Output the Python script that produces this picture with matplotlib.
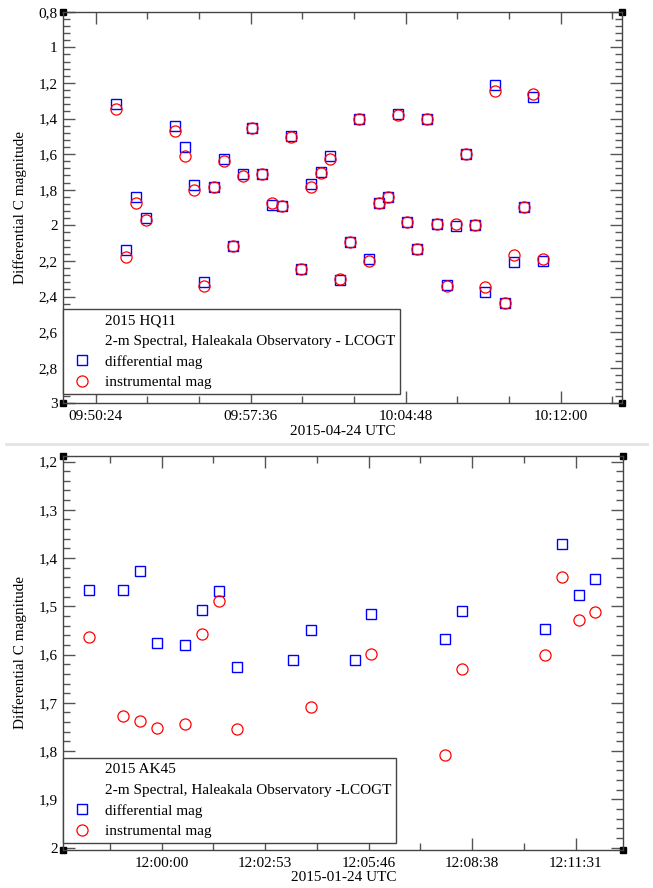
import numpy as np
import matplotlib
matplotlib.use('Agg')
import matplotlib.pyplot as plt
from matplotlib.lines import Line2D
from matplotlib.ticker import MultipleLocator, FuncFormatter

plt.rcParams['font.family'] = ['Liberation Serif', 'DejaVu Serif']
plt.rcParams['font.size'] = 11

# 2015 HQ11, 2015-04-24
hq_times = ["09:51:21", "09:51:48", "09:52:15", "09:52:43", "09:54:05", "09:54:33",
            "09:54:59", "09:55:27", "09:55:53", "09:56:21", "09:56:47", "09:57:14",
            "09:57:40", "09:58:08", "09:58:35", "09:59:03", "09:59:29", "09:59:56",
            "10:00:25", "10:00:52", "10:01:18", "10:01:45", "10:02:12", "10:02:39",
            "10:03:06", "10:03:33", "10:03:59", "10:04:26", "10:04:52", "10:05:20",
            "10:05:47", "10:06:14", "10:06:42", "10:07:08", "10:07:35", "10:08:02",
            "10:08:30", "10:08:57", "10:09:25", "10:09:51", "10:10:18", "10:10:44",
            "10:11:12"]
hq_diff = [1.320, 2.140, 1.840, 1.961, 1.442, 1.559, 1.774, 2.318, 1.784, 1.630,
           2.115, 1.709, 1.455, 1.712, 1.887, 1.890, 1.499, 2.246, 1.768, 1.703,
           1.611, 2.305, 2.095, 1.405, 2.190, 1.874, 1.840, 1.375, 1.984, 2.134,
           1.405, 1.993, 2.335, 2.003, 1.600, 1.998, 2.374, 1.212, 2.436, 2.208,
           1.896, 1.278, 2.200]
hq_inst = [1.347, 2.180, 1.877, 1.971, 1.469, 1.611, 1.804, 2.342, 1.784, 1.639,
           2.115, 1.722, 1.455, 1.712, 1.877, 1.892, 1.503, 2.248, 1.784, 1.705,
           1.630, 2.300, 2.095, 1.405, 2.199, 1.874, 1.843, 1.380, 1.984, 2.134,
           1.405, 1.993, 2.342, 1.993, 1.600, 1.998, 2.346, 1.244, 2.436, 2.167,
           1.896, 1.264, 2.190]

# 2015 AK45, 2015-01-24
ak_times = ["11:57:59", "11:58:56", "11:59:24", "11:59:53", "12:00:39", "12:01:08",
            "12:01:36", "12:02:05", "12:03:40", "12:04:09", "12:05:23", "12:05:50",
            "12:07:53", "12:08:21", "12:10:40", "12:11:08", "12:11:36", "12:12:03"]
ak_diff = [1.467, 1.467, 1.426, 1.576, 1.581, 1.508, 1.468, 1.625, 1.612, 1.549,
           1.612, 1.515, 1.568, 1.510, 1.548, 1.371, 1.476, 1.443]
ak_inst = [1.563, 1.728, 1.738, 1.753, 1.743, 1.557, 1.490, 1.755, np.nan, 1.708,
           np.nan, 1.599, 1.808, 1.629, 1.601, 1.439, 1.528, 1.512]


def to_sec(s):
    h, m, sec = s.split(":")
    return int(h) * 3600 + int(m) * 60 + int(sec)


def fmt_time(v, pos):
    v = int(round(v))
    return f"{v // 3600:02d}:{(v % 3600) // 60:02d}:{v % 60:02d}"


def fmt_mag(v, pos):
    return f"{round(v, 3):g}".replace(".", ",")


def draw_panel(ax, times, diff, inst, name, obs, xlabel, xlim, ylim,
               xmaj, xmin, ymaj, ymin, leg_y):
    t = [to_sec(s) for s in times]
    ax.plot(t, diff, linestyle="none", marker="s", ms=7, mfc="none",
            mec="blue", mew=1.0)
    ax.plot(t, inst, linestyle="none", marker="o", ms=8, mfc="none",
            mec="red", mew=0.9)
    ax.set_xlim(*xlim)
    ax.set_ylim(*ylim)
    ax.xaxis.set_major_locator(MultipleLocator(xmaj))
    ax.xaxis.set_minor_locator(MultipleLocator(xmin))
    ax.yaxis.set_major_locator(MultipleLocator(ymaj))
    ax.yaxis.set_minor_locator(MultipleLocator(ymin))
    ax.xaxis.set_major_formatter(FuncFormatter(fmt_time))
    ax.yaxis.set_major_formatter(FuncFormatter(fmt_mag))
    ax.tick_params(which="both", direction="in", top=True, right=True,
                   color="#555555", labelsize=11)
    ax.tick_params(which="major", length=8.5, width=1)
    ax.tick_params(which="minor", length=5, width=1)
    ax.tick_params(axis="y", pad=4)
    ax.tick_params(axis="x", pad=5)
    for sp in ax.spines.values():
        sp.set_color("#444444")
        sp.set_linewidth(1)
    ax.set_ylabel("Differential C magnitude", fontsize=11)
    ax.yaxis.set_label_coords(-0.065, 0.5)
    ax.set_xlabel(xlabel, fontsize=11, labelpad=1)
    # xmgrace style corner markers
    ax.plot([0, 1, 0, 1], [0, 0, 1, 1], "s", color="black", ms=4.3,
            transform=ax.transAxes, clip_on=False)

    handles = [
        Line2D([], [], linestyle="none"),
        Line2D([], [], linestyle="none"),
        Line2D([], [], linestyle="none", marker="s", ms=7, mfc="none",
               mec="blue", mew=1.0),
        Line2D([], [], linestyle="none", marker="o", ms=8, mfc="none",
               mec="red", mew=0.9),
    ]
    labels = [name, obs, "differential mag", "instrumental mag"]
    leg = ax.legend(handles, labels, loc="lower left", bbox_to_anchor=(0, leg_y),
                    borderaxespad=0, frameon=True, fancybox=False, framealpha=1,
                    edgecolor="#444444", fontsize=11, labelspacing=0.46,
                    borderpad=0.3, handlelength=1.9, handletextpad=0.55)
    leg.get_frame().set_linewidth(1)


fig = plt.figure(figsize=(6.53, 8.88), dpi=100)
ax1 = fig.add_axes([0.0969, 0.5458, 0.8552, 0.4410])
ax2 = fig.add_axes([0.0969, 0.0428, 0.8576, 0.4440])

draw_panel(ax1, hq_times, hq_diff, hq_inst, "2015 HQ11",
           "2-m Spectral, Haleakala Observatory - LCOGT", "2015-04-24 UTC",
           (35333.7, 36890), (3.0, 0.8), 432, 144, 0.2, 0.04, 0.024)
draw_panel(ax2, ak_times, ak_diff, ak_inst, "2015 AK45",
           "2-m Spectral, Haleakala Observatory -LCOGT", "2015-01-24 UTC",
           (43035.7, 43970.7), (2.005, 1.188), 172.8, 86.4, 0.1, 0.02, 0.018)

# separator between the two panels
fig.add_artist(Line2D([0.009, 0.991], [0.5, 0.5], color="#e4e4e4", lw=2))

fig.savefig("out.png", dpi=100)
